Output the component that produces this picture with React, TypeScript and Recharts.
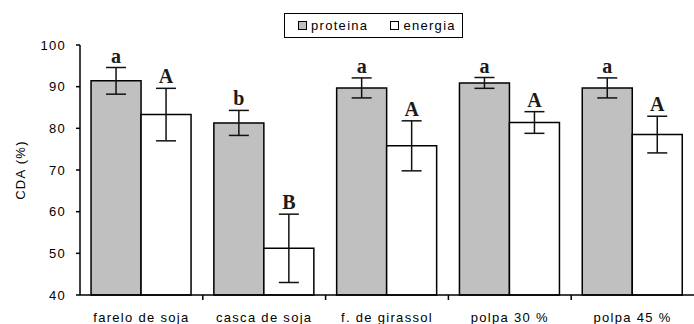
import React from "react";
import { BarChart, Bar, XAxis, YAxis, ErrorBar, LabelList, Legend } from "recharts";

const categories = ["farelo de soja", "casca de soja", "f. de girassol", "polpa 30 %", "polpa 45 %"];
const proteina = [91.4, 81.3, 89.7, 90.9, 89.7];
const proteinaErr = [3.2, 3.0, 2.4, 1.3, 2.4];
const proteinaLetters = ["a", "b", "a", "a", "a"];
const energia = [83.3, 51.2, 75.8, 81.4, 78.5];
const energiaErr = [6.3, 8.2, 6.0, 2.6, 4.4];
const energiaLetters = ["A", "B", "A", "A", "A"];
const yTicks = [40, 50, 60, 70, 80, 90, 100];
const seriesOrder = ["proteina", "energia"];

const W = 694;
const H = 324;
const Y_W = 80;
const PLOT_W = W - Y_W;
const FONT = "'Liberation Sans', Arial, sans-serif";

const data = categories.map((name, i) => ({
  name,
  proteina: proteina[i],
  proteinaErr: proteinaErr[i],
  proteinaLetter: proteinaLetters[i],
  energia: energia[i],
  energiaErr: energiaErr[i],
  energiaLetter: energiaLetters[i],
}));

function CategoryTick(props: any) {
  const { x, y, payload, index } = props;
  const step = PLOT_W / categories.length;
  return (
    <g>
      {index > 0 && (
        <line x1={x - step / 2} x2={x - step / 2} y1={y} y2={y + 5} stroke="#000" strokeWidth={1.5} />
      )}
      <text x={x} y={y + 27} textAnchor="middle" fontSize={13} fill="#000" style={{ letterSpacing: 1.3 }}>
        {payload.value}
      </text>
    </g>
  );
}

// letter above the error bar: bar height gives pixels per unit
function letterLabel(valueKey: string, errKey: string) {
  return (props: any) => {
    const vb = props.viewBox || {};
    const x = props.x ?? vb.x;
    const y = props.y ?? vb.y;
    const width = props.width ?? vb.width;
    const height = props.height ?? vb.height;
    const row: any = data[props.index];
    if (!row) return null;
    const ppu = height / (row[valueKey] - 40);
    const top = y - row[errKey] * ppu;
    return (
      <text
        x={x + width / 2}
        y={top - 5}
        textAnchor="middle"
        fontSize={20}
        fontWeight="bold"
        fill="#1a1a1a"
        style={{ fontFamily: "'Liberation Serif', 'Times New Roman', serif" }}
      >
        {props.value}
      </text>
    );
  };
}

function LegendBox(props: any) {
  const items = [...(props.payload || [])].sort(
    (a: any, b: any) => seriesOrder.indexOf(a.value) - seriesOrder.indexOf(b.value)
  );
  return (
    <div
      style={{
        border: "1.5px solid #000",
        height: 25,
        width: 179,
        display: "flex",
        alignItems: "center",
        paddingLeft: 13,
        boxSizing: "border-box",
        fontFamily: FONT,
        fontSize: 13,
        letterSpacing: 1.3,
        background: "#fff",
      }}
    >
      {items.map((it: any, i: number) => (
        <span key={i} style={{ display: "flex", alignItems: "center", marginRight: 22 }}>
          <span
            style={{
              display: "inline-block",
              width: 7,
              height: 7,
              border: "1px solid #000",
              background: it.payload?.fill ?? it.color,
              marginRight: 4,
            }}
          />
          {it.value}
        </span>
      ))}
    </div>
  );
}

export default function App() {
  return (
    <div style={{ position: "absolute", left: 0, top: 0, width: W, height: H, fontFamily: FONT, background: "#fff" }}>
      <BarChart
        width={W}
        height={H}
        data={data}
        margin={{ top: 45, right: 0, left: 0, bottom: 0 }}
        barCategoryGap="9%"
        barGap={0}
      >
        <XAxis
          dataKey="name"
          height={29}
          stroke="#000"
          strokeWidth={1.5}
          tickLine={false}
          tickSize={0}
          tickMargin={0}
          interval={0}
          tick={<CategoryTick />}
        />
        <YAxis
          domain={[40, 100]}
          ticks={yTicks}
          width={Y_W}
          stroke="#000"
          strokeWidth={1.5}
          tickSize={4}
          tickMargin={10}
          interval={0}
          tick={{ fontSize: 13, fill: "#000", style: { letterSpacing: 1.3 } }}
          label={{
            value: "CDA (%)",
            angle: -90,
            position: "insideLeft",
            offset: 20,
            style: { textAnchor: "middle", fontSize: 13, fill: "#000", letterSpacing: 1.3 },
          }}
        />
        <Legend
          layout="horizontal"
          verticalAlign="middle"
          align="center"
          wrapperStyle={{ top: 13, left: 284, width: 180 }}
          content={<LegendBox />}
        />
        <Bar dataKey="proteina" name="proteina" fill="#c0c0c0" stroke="#000" strokeWidth={1.5} isAnimationActive={false}>
          <ErrorBar dataKey="proteinaErr" width={10} stroke="#111" strokeWidth={1.5} />
          <LabelList dataKey="proteinaLetter" content={letterLabel("proteina", "proteinaErr")} />
        </Bar>
        <Bar dataKey="energia" name="energia" fill="#ffffff" stroke="#000" strokeWidth={1.5} isAnimationActive={false}>
          <ErrorBar dataKey="energiaErr" width={10} stroke="#111" strokeWidth={1.5} />
          <LabelList dataKey="energiaLetter" content={letterLabel("energia", "energiaErr")} />
        </Bar>
      </BarChart>
    </div>
  );
}
